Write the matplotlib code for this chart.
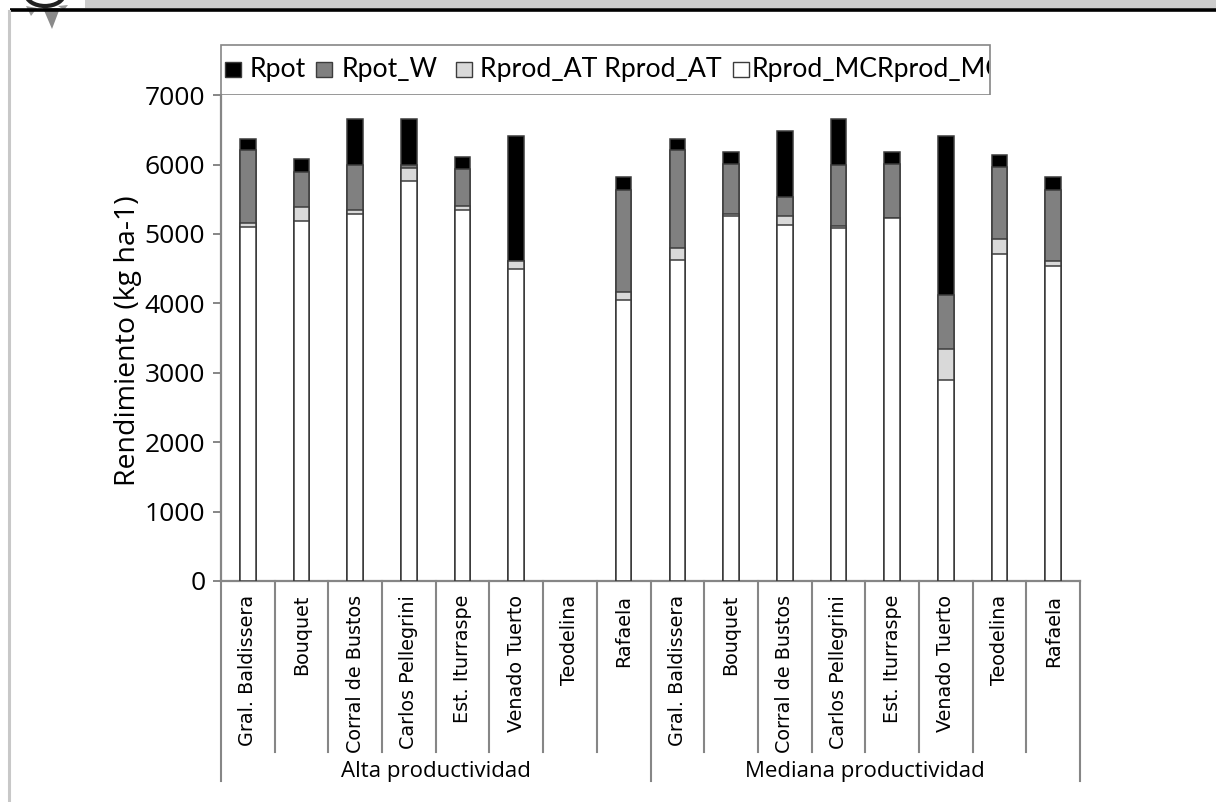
import matplotlib
matplotlib.use("Agg")
import matplotlib.pyplot as plt
from matplotlib.patches import Rectangle, Polygon, Ellipse
import matplotlib.transforms as mtransforms
import numpy as np

# ---------------- data ----------------
sites = ["Gral. Baldissera", "Bouquet", "Corral de Bustos", "Carlos Pellegrini",
         "Est. Iturraspe", "Venado Tuerto", "Teodelina", "Rafaela"]
categories = sites + sites
groups = ["Alta productividad", "Mediana productividad"]
series_names = ["Rpot", "Rpot_W", "Rprod_AT Rprod_AT", "Rprod_MCRprod_MC"]

rpot = [6370, 6080, 6660, 6660, 6110, 6410, None, 5820,
        6370, 6180, 6490, 6660, 6180, 6410, 6135, 5820]
rpot_w = [6205, 5895, 6000, 6000, 5935, 4615, None, 5640,
          6205, 6015, 5535, 6000, 6015, 4115, 5965, 5640]
rprod_at = [5160, 5390, 5345, 5945, 5405, 4610, None, 4160,
            4800, 5295, 5265, 5120, 5235, 3350, 4930, 4605]
rprod_mc = [5100, 5185, 5290, 5770, 5345, 4500, None, 4050,
            4620, 5260, 5130, 5090, 5225, 2890, 4705, 4540]

yticks = [0, 1000, 2000, 3000, 4000, 5000, 6000, 7000]
ylabel = "Rendimiento (kg ha-1)"

colors = ["#000000", "#808080", "#d9d9d9", "#ffffff"]

W, H = 1216, 802
fig = plt.figure(figsize=(W / 100, H / 100), dpi=100)
fig.patch.set_facecolor("white")

def fx(px):
    return px / W

def fy(py):
    return 1 - py / H

# ---------------- decorations (pixel axes) ----------------
deco = fig.add_axes([0, 0, 1, 1])
deco.set_xlim(0, W)
deco.set_ylim(H, 0)
deco.axis("off")
deco.patch.set_visible(False)
deco.add_patch(Rectangle((85, 0), W - 85, 7.5, facecolor="#cccccc", edgecolor="none"))
deco.plot([10, W], [9.5, 9.5], color="black", lw=2.6, solid_capstyle="butt")
deco.plot([9, 9], [11, H], color="#c8c8c8", lw=2.2)
# icon (star and ring fragment)
deco.add_patch(Polygon([[26, 6], [37, 8], [31, 16]], closed=True, facecolor="#9a9a9a", edgecolor="none"))
deco.add_patch(Polygon([[43, 8], [60, 8], [52, 29]], closed=True, facecolor="#8a8a8a", edgecolor="none"))
deco.add_patch(Polygon([[58, 6], [68, 5], [64, 10]], closed=True, facecolor="#9a9a9a", edgecolor="none"))
deco.add_patch(Ellipse((45, -6), 38, 24, facecolor="none", edgecolor="#222222", lw=3))

# ---------------- main axes ----------------
left, right, bottom, top = 221, 1080, 581, 95.2
ax = fig.add_axes([fx(left), fy(bottom), fx(right - left), (bottom - top) / H])
ax.set_xlim(-0.5, len(categories) - 0.5)
ax.set_ylim(0, 7000)

x = np.arange(len(categories))
bw = 0.29
def arr(v):
    return np.array([np.nan if a is None else a for a in v], dtype=float)

for i, (vals, c) in enumerate(zip([rpot, rpot_w, rprod_at, rprod_mc], colors)):
    ax.bar(x, arr(vals), width=bw, color=c, edgecolor="#3c3c3c", linewidth=1.1, zorder=2 + i)

for s in ["top", "right"]:
    ax.spines[s].set_visible(False)
for s in ["left", "bottom"]:
    ax.spines[s].set_color("#868686")
    ax.spines[s].set_linewidth(1.6)

ax.set_yticks(yticks)
ax.set_yticklabels([str(t) for t in yticks], fontfamily="Open Sans", fontsize=19)
ax.tick_params(axis="y", length=5.8, width=1.4, color="#868686", pad=5.5)

ax.set_xticks(x)
ax.set_xticklabels(categories, rotation=90, fontfamily="DejaVu Sans", fontsize=13.8,
                   va="top", ha="center")
ax.tick_params(axis="x", length=0, pad=10)

trans = mtransforms.blended_transform_factory(ax.transData, ax.transAxes)
ph = bottom - top
short = -(752 - bottom) / ph
long_ = -(781 - bottom) / ph
n = len(categories)
for k in range(n + 1):
    ylow = long_ if k % len(sites) == 0 else short
    ax.plot([k - 0.5, k - 0.5], [0, ylow], transform=trans, color="#868686",
            lw=1.5, clip_on=False, zorder=1)

for g, name in enumerate(groups):
    cx = g * len(sites) + (len(sites) - 1) / 2
    ax.text(cx, -(772 - bottom) / ph, name, transform=trans, ha="center", va="center",
            fontfamily="Open Sans", fontsize=16)

fig.text(fx(128), fy(341), ylabel, rotation=90, ha="center", va="center",
         fontfamily="Open Sans", fontsize=20.5)

# ---------------- legend (drawn manually) ----------------
deco.add_patch(Rectangle((221, 45), 990 - 221, 50, facecolor="white",
                         edgecolor="#868686", lw=1.2, zorder=5))
sq_x = [225, 316, 456, 733]
tx_x = [250, 342, 480, 752]
clip = mtransforms.Bbox.from_extents(0, 0, 989, H)
for name, c, sx, tx in zip(series_names, colors, sq_x, tx_x):
    deco.add_patch(Rectangle((sx, 62), 16, 15, facecolor=c, edgecolor="#3c3c3c",
                             lw=1.0, zorder=6))
    t = deco.text(tx, 69, name, ha="left", va="center", fontfamily="Lato",
                  fontsize=19.2, zorder=7)
    t.set_clip_on(True)
    t.set_clip_box(clip)

fig.savefig("out.png", dpi=100, facecolor="white")
